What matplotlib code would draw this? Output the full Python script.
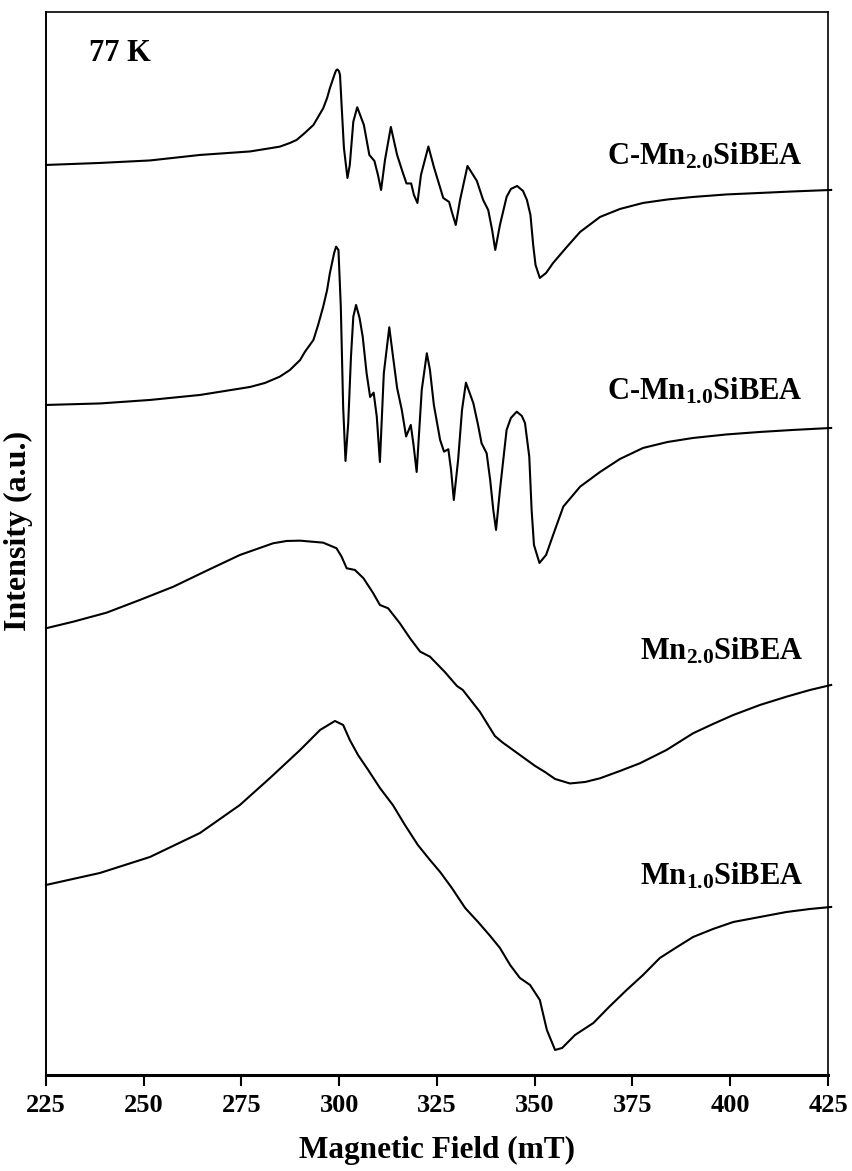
import matplotlib
matplotlib.use('Agg')
import matplotlib.pyplot as plt

plt.rcParams['font.family'] = ['Liberation Serif', 'DejaVu Serif']
plt.rcParams['font.weight'] = 'bold'
plt.rcParams['mathtext.fontset'] = 'custom'
plt.rcParams['mathtext.rm'] = 'Liberation Serif:bold'
plt.rcParams['mathtext.bf'] = 'Liberation Serif:bold'
plt.rcParams['mathtext.it'] = 'Liberation Serif:bold:italic'

# EPR spectra (field in mT, intensity in a.u., already stacked)
field_c20 = [225.0, 238.8, 251.6, 264.4, 277.2, 284.8, 287.4, 289.1, 291.2, 293.4,
             294.6, 295.9, 296.9, 297.6, 298.9, 299.2, 299.5, 299.9, 300.2, 300.6,
             301.2, 302.1, 302.7, 303.6, 304.6, 306.3, 307.7, 309.0, 309.9, 310.7,
             311.7, 313.2, 314.8, 316.2, 317.2, 318.4, 319.1, 320.0, 320.9, 322.8,
             324.2, 326.6, 328.1, 328.8, 329.8, 330.9, 332.8, 335.2, 336.8, 338.1,
             339.1, 339.9, 341.1, 342.8, 343.9, 345.5, 347.0, 348.0, 348.9, 349.6,
             350.2, 351.3, 352.9, 354.7, 358.2, 361.6, 366.7, 371.8, 377.7, 384.0,
             390.5, 399.0, 407.6, 416.0, 425.8]
int_c20 = [910, 912, 914.5, 920, 923.5, 928.3, 932, 935, 942, 950,
           958, 966.7, 977, 986.7, 1001.7, 1004.5, 1005.5, 1004, 1000, 970,
           927, 897, 910, 953.3, 967.7, 950, 920, 914, 900, 885,
           915, 948, 920, 903, 891.5, 891.5, 880, 872, 900, 928.5,
           908, 877, 873, 863, 850, 875, 909, 894, 875, 865,
           845, 825, 850, 878, 886, 889, 884, 875, 860, 830,
           810, 797, 802, 812, 828, 843, 858, 866, 872, 875.5,
           878, 880.5, 882, 883.5, 885]

field_c10 = [225.0, 238.8, 251.6, 264.4, 270.8, 277.2, 281.0, 284.8, 287.4, 290.0,
             291.2, 293.4, 294.6, 295.9, 296.9, 297.6, 298.7, 299.2, 299.8, 300.4,
             301.0, 301.6, 302.3, 303.0, 303.6, 304.3, 305.2, 306.0, 307.0, 307.9,
             308.8, 309.6, 310.4, 311.4, 312.8, 313.7, 314.8, 316.0, 317.1, 318.3,
             319.0, 319.8, 321.1, 322.4, 323.2, 324.2, 325.8, 326.8, 327.9, 328.6,
             329.3, 330.4, 331.4, 332.4, 334.3, 335.5, 336.4, 337.7, 338.6, 339.4,
             340.1, 341.1, 342.8, 343.9, 345.4, 346.7, 347.5, 348.6, 349.2, 349.8,
             351.2, 352.9, 354.7, 357.3, 361.6, 366.7, 371.8, 377.7, 384.0, 390.5,
             399.0, 407.6, 416.0, 425.8]
int_c10 = [670, 671.5, 675, 680, 684, 688, 692, 698.3, 705, 715,
           723, 735, 750, 768.3, 785, 801.7, 822, 828.3, 825, 768.3,
           668.3, 614, 652, 718.3, 758.3, 770, 757, 738.3, 701.7, 678,
           682.3, 658.3, 613, 701.7, 747.7, 720, 687, 665, 638.5, 650,
           630, 603, 685, 721.7, 705, 670, 635, 623.3, 625.7, 605,
           575, 615, 665, 692.3, 671.7, 650, 631.7, 621.7, 595, 565,
           545, 585, 645, 657, 663.3, 659, 652, 618.3, 565, 530,
           512, 520, 540, 568.3, 588.3, 603, 616, 627, 633, 637,
           640.5, 643, 645, 647]

field_m20 = [225.0, 232.0, 240.5, 249.0, 257.6, 266.1, 274.6, 283.1, 286.6, 290.0,
             295.9, 299.3, 300.6, 301.9, 304.0, 306.2, 308.7, 310.4, 312.5, 315.5,
             318.1, 320.7, 323.2, 327.0, 330.1, 331.6, 336.0, 339.8, 341.6, 346.2,
             350.1, 352.6, 355.2, 359.0, 362.9, 366.7, 371.8, 376.9, 383.7, 390.5,
             395.6, 400.8, 407.6, 414.4, 420.4, 425.8]
int_m20 = [446.7, 453.3, 462.3, 475, 488.3, 504.3, 520, 531.7, 534, 534.3,
           532.3, 526.7, 518.3, 506.7, 505, 496.7, 481.7, 470, 466.7, 451.7,
           436.7, 423.3, 418.3, 403, 389, 385, 363, 339, 333, 320,
           309, 303, 296, 291.5, 293, 296.7, 304, 311.7, 325, 341.7,
           351, 360, 370, 378.3, 385, 390]

field_m10 = [225.0, 238.8, 251.6, 264.4, 274.6, 282.3, 290.0, 295.1, 298.9, 301.0,
             302.7, 304.8, 307.4, 310.4, 313.7, 316.8, 320.1, 323.2, 325.8, 328.8,
             332.2, 335.5, 338.6, 341.1, 343.7, 346.2, 348.8, 351.3, 353.1, 355.2,
             357.0, 360.3, 365.0, 369.0, 373.5, 377.7, 382.0, 386.0, 390.5, 395.6,
             400.8, 407.6, 414.4, 420.4, 425.8]
int_m10 = [190, 202, 218, 242, 270, 297, 325, 345, 354, 350,
           335, 320, 305, 287, 270, 250, 230, 215, 203, 187,
           167, 153, 139, 127, 110, 97, 90, 75, 45, 25,
           27, 40, 52, 68, 85, 100, 117, 127, 138, 146,
           153, 158, 163, 166, 168]

labels = [r'C-Mn$_{2.0}$SiBEA', r'C-Mn$_{1.0}$SiBEA', r'Mn$_{2.0}$SiBEA', r'Mn$_{1.0}$SiBEA']
label_y = [910, 675, 415, 190]

fig = plt.figure(figsize=(8.53, 11.71), dpi=100)
ax = fig.add_axes([0.0539, 0.0820, 0.9168, 0.9078])

for f, y in [(field_c20, int_c20), (field_c10, int_c10), (field_m20, int_m20), (field_m10, int_m10)]:
    ax.plot(f, y, color='black', lw=1.5, clip_on=False)

for lab, ly in zip(labels, label_y):
    ax.text(418.6, ly, lab, ha='right', va='baseline', fontsize=22, fontweight='bold')

ax.text(236.0, 1014, '77 K', ha='left', va='baseline', fontsize=22, fontweight='bold')

ax.set_xlim(225, 425)
ax.set_ylim(0, 1063)
ax.set_xticks([225, 250, 275, 300, 325, 350, 375, 400, 425])
ax.set_yticks([])
ax.tick_params(axis='x', direction='out', length=8, width=1.5, labelsize=19, pad=6)
for lbl in ax.get_xticklabels():
    lbl.set_fontweight('bold')

ax.spines['bottom'].set_linewidth(2.2)
ax.spines['left'].set_linewidth(1.4)
ax.spines['right'].set_linewidth(1.2)
ax.spines['top'].set_linewidth(1.2)

ax.set_xlabel('Magnetic Field (mT)', fontsize=22.5, fontweight='bold')
ax.xaxis.set_label_coords(0.5, -0.057)
ax.set_ylabel('Intensity (a.u.)', fontsize=23, fontweight='bold')
ax.yaxis.set_label_coords(-0.017, 0.512)

fig.savefig('out.png', dpi=100)
